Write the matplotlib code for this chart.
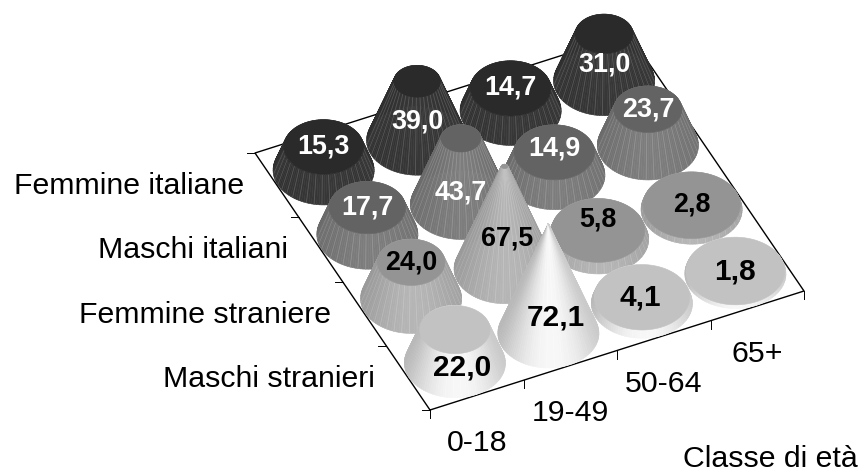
import numpy as np
import matplotlib
matplotlib.use("Agg")
import matplotlib.pyplot as plt
from matplotlib.collections import PolyCollection, LineCollection

plt.rcParams["font.family"] = ["Liberation Sans", "DejaVu Sans"]

age_classes = ["0-18", "19-49", "50-64", "65+"]
groups = ["Maschi stranieri", "Femmine straniere", "Maschi italiani", "Femmine italiane"]
maschi_stranieri = [22.0, 72.1, 4.1, 1.8]
femmine_straniere = [24.0, 67.5, 5.8, 2.8]
maschi_italiani = [17.7, 43.7, 14.9, 23.7]
femmine_italiane = [15.3, 39.0, 14.7, 31.0]
series = [maschi_stranieri, femmine_straniere, maschi_italiani, femmine_italiane]

top_grey = [0.76, 0.58, 0.39, 0.165]
side_low = [0.76, 0.62, 0.43, 0.19]
side_high = [0.97, 0.71, 0.49, 0.215]
seam_gain = [0.012, 0.06, 0.10, 0.14]
label_color = ["black", "black", "white", "white"]
label_size = [21.5, 19.4, 19.4, 19.4]

# screen offsets of the value labels relative to the foot of each cone
label_shift_x = [[7, 8, -2, 0], [0, 3, 0, 0], [0, 0, 0, 0], [0, 0, 0, 0]]
label_shift_y = [[5, -16, -6, -2], [-36, -31, -20, -5], [-27, -12, -27, -36], [-24, -19, -23, -17]]

# Oblique projection: floor units to screen pixels, value units to lift
ORIGIN = np.array([430.0, 410.0])
U_STEP = np.array([93.5, -29.75])
V_STEP = np.array([-43.75, -64.25])
LIFT = 1.52
RADIUS = 0.49
APEX = 72.1
FACETS = 120


def project(u, v, z=0.0):
    u, v, z = np.asarray(u), np.asarray(v), np.asarray(z)
    x = ORIGIN[0] + u * U_STEP[0] + v * V_STEP[0]
    y = ORIGIN[1] + u * U_STEP[1] + v * V_STEP[1] - z * LIFT
    return np.stack([x, y], axis=-1)


def flank_grey(row, s):
    return side_low[row] + (side_high[row] - side_low[row]) * (1 - abs(s - 0.08) ** 2)


def draw_cone(ax, u, v, value, row, zorder):
    theta = np.linspace(0, 2 * np.pi, FACETS + 1)
    top_r = RADIUS * max(1 - value / APEX, 0.0)
    base = project(u + RADIUS * np.cos(theta), v + RADIUS * np.sin(theta), 0.0)
    top = project(u + top_r * np.cos(theta), v + top_r * np.sin(theta), value)
    half_width = RADIUS * np.hypot(U_STEP[0], V_STEP[0])
    centre_x = project(u, v)[0]

    order = np.argsort(base[:-1, 1] + base[1:, 1])
    quads, colors = [], []
    for i in order:
        quads.append([base[i], base[i + 1], top[i + 1], top[i]])
        s = ((base[i, 0] + base[i + 1, 0]) / 2 - centre_x) / half_width
        grey = flank_grey(row, s)
        colors.append((grey, grey, grey))
    ax.add_collection(PolyCollection(quads, facecolors=colors, edgecolors=colors,
                                     linewidths=0.4, zorder=zorder))

    # Lighter seams on the visible flank of the surface
    seams = []
    seam_colors = []
    for i in range(0, FACETS, 3):
        if np.sin(theta[i]) * V_STEP[1] + np.cos(theta[i]) * U_STEP[1] > 0:
            seams.append([base[i], top[i]])
            s = (base[i, 0] - centre_x) / half_width
            grey = min(flank_grey(row, s) + seam_gain[row], 1.0)
            seam_colors.append((grey, grey, grey))
    ax.add_collection(LineCollection(seams, colors=seam_colors, linewidths=0.6, zorder=zorder))

    if top_r > 0:
        g = top_grey[row]
        ax.fill(top[:, 0], top[:, 1], color=(g, g, g), lw=0.4, zorder=zorder)


fig = plt.figure(figsize=(8.61, 4.72), dpi=100)
ax = fig.add_axes([0, 0, 1, 1])
ax.set_xlim(0, 861)
ax.set_ylim(472, 0)
ax.axis("off")

n_u, n_v = len(age_classes), len(groups)

# Floor frame
frame = project([0, n_u, n_u, 0, 0], [0, 0, n_v, n_v, 0])
ax.plot(frame[:, 0], frame[:, 1], color="black", lw=1.0, zorder=1, solid_capstyle="projecting")

# Tick marks on the two front edges
for i in range(n_u + 1):
    p = project(i, 0)
    ax.plot([p[0], p[0]], [p[1], p[1] + 8], color="black", lw=0.7, zorder=1)
for j in range(n_v + 1):
    p = project(0, j)
    ax.plot([p[0] - 8, p[0]], [p[1], p[1]], color="black", lw=0.7, zorder=1)

# Cones are painted from the far corner of the floor to the near one
cells = [(i, j) for j in range(n_v) for i in range(n_u)]
cells.sort(key=lambda c: project(c[0] + 0.5, c[1] + 0.5)[1])
for k, (i, j) in enumerate(cells):
    draw_cone(ax, i + 0.5, j + 0.5, series[j][i], j, 2 + k)

for j in range(n_v):
    for i in range(n_u):
        p = project(i + 0.5, j + 0.5)
        ax.text(p[0] + label_shift_x[j][i], p[1] + label_shift_y[j][i],
                f"{series[j][i]:.1f}".replace(".", ","),
                ha="center", va="center", fontsize=label_size[j], fontweight="bold",
                color=label_color[j], zorder=100)

for i, name in enumerate(age_classes):
    p = project(i + 0.5, 0)
    ax.text(p[0], p[1] + 48, name, ha="center", va="center", fontsize=21.8, color="black")
for j, name in enumerate(groups):
    p = project(0, j + 0.5)
    ax.text(p[0] - 33, p[1] + 1, name, ha="right", va="center", fontsize=21.8, color="black")

ax.text(858, 459, "Classe di età", ha="right", va="center", fontsize=21.8, color="black")

fig.savefig("out.png", dpi=100, facecolor="white")
